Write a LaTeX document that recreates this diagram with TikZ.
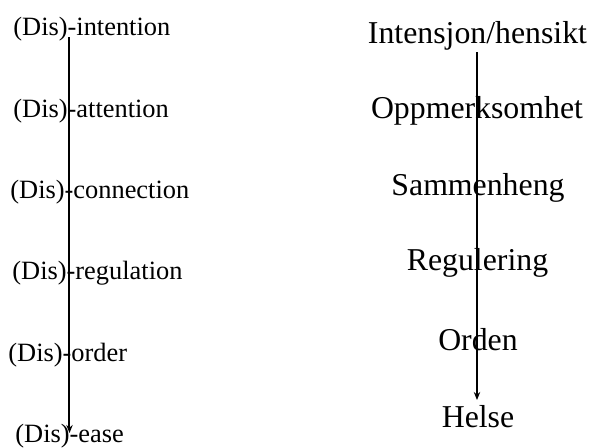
\documentclass[tikz,border=0pt]{standalone}
\usepackage{fontspec}
\setmainfont{Liberation Serif}
\usetikzlibrary{arrows.meta}
\begin{document}
\begin{tikzpicture}[x=0.5pt,y=-0.5pt,
        dis/.style={anchor=base west,inner sep=0pt,font=\fontsize{13.2}{15}\selectfont},
        norsk/.style={anchor=base,inner sep=0pt,font=\fontsize{15.9}{18}\selectfont},
        pil/.style={line width=1pt,-{Stealth[length=4pt,width=3.2pt]}}]
        \useasboundingbox (0,0) rectangle (591,447);
        % 左列: 英文
        \node[dis] (disint) at (13,35) {(Dis)-intention};
        \node[dis] (disatt) at (13,117) {(Dis)-attention};
        \node[dis] (discon) at (10,198) {(Dis)-connection};
        \node[dis] (disreg) at (12,279) {(Dis)-regulation};
        \node[dis] (disord) at (8,361) {(Dis)-order};
        \node[dis] (disease) at (15,442) {(Dis)-ease};
        \coordinate (ltop) at (69.5,37);
        \coordinate (lbot) at (69.5,433);
        \draw[pil] (ltop) -- (lbot);
        
        % 右列: 挪威文
        \node[norsk] (intensjon) at (477.5,43) {Intensjon/hensikt};
        \node[norsk] (oppm) at (477,118) {Oppmerksomhet};
        \node[norsk] (samm) at (478,195) {Sammenheng};
        \node[norsk] (regul) at (477.5,270) {Regulering};
        \node[norsk] (orden) at (478,350) {Orden};
        \node[norsk] (helse) at (478,427) {Helse};
        \coordinate (rtop) at (477,52);
        \coordinate (rbot) at (477,400);
        \draw[pil] (rtop) -- (rbot);
    \end{tikzpicture}
\end{document}
